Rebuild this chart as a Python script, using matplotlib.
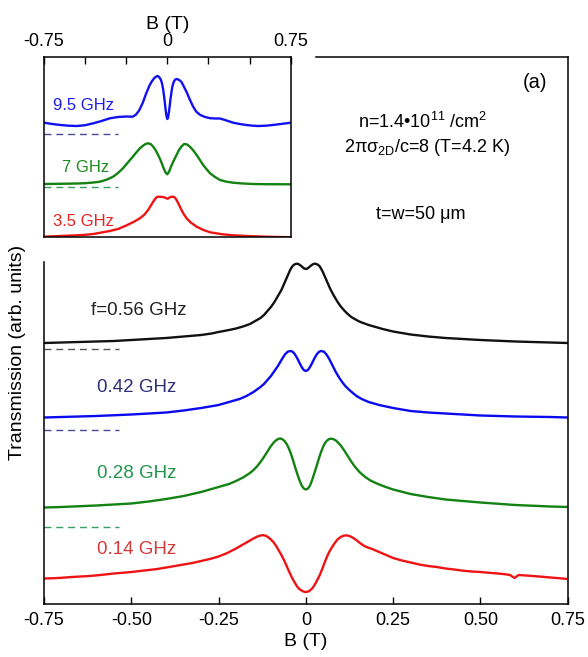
import matplotlib
matplotlib.use("Agg")
import matplotlib.pyplot as plt

plt.rcParams['font.family'] = ['Liberation Sans', 'DejaVu Sans']
plt.rcParams['mathtext.fontset'] = 'custom'
plt.rcParams['mathtext.rm'] = 'Liberation Sans'
plt.rcParams['mathtext.it'] = 'Liberation Sans:italic'

# ---------------- main panel data (arb. units) ----------------
B_056 = [-0.75, -0.7, -0.65, -0.6, -0.55, -0.5, -0.45, -0.4, -0.35, -0.3, -0.27, -0.25, -0.22,
         -0.2, -0.18, -0.16, -0.15, -0.14, -0.13, -0.12, -0.11, -0.1, -0.09, -0.08, -0.07,
         -0.06, -0.05, -0.045, -0.04, -0.035, -0.03, -0.025, -0.02, -0.015, -0.01, -0.005, 0.0,
         0.005, 0.01, 0.015, 0.02, 0.025, 0.03, 0.035, 0.04, 0.045, 0.05, 0.06, 0.07, 0.08,
         0.09, 0.1, 0.11, 0.12, 0.13, 0.14, 0.15, 0.16, 0.18, 0.2, 0.22, 0.25, 0.3, 0.35,
         0.4, 0.45, 0.5, 0.6, 0.7, 0.75]
T_056 = [261, 261.5, 262, 262.5, 263, 264, 265, 266, 267.5, 269, 270.5, 272, 274,
         275.5, 277.5, 280, 282, 284, 286, 289, 293, 297, 302, 308, 314,
         322, 330, 334, 337, 339, 340, 340.3, 339.7, 338.5, 337, 335.6, 335,
         335.6, 337, 338.5, 339.7, 340.3, 340, 339.2, 337.5, 334.5, 331, 323, 315, 308.5,
         302.5, 297.5, 293.5, 290, 287, 285, 283, 281.5, 279, 277, 275, 272.5, 269.5, 267.5,
         266, 265, 264, 262.5, 261.5, 261]

B_042 = [-0.75, -0.7, -0.6, -0.5, -0.45, -0.4, -0.35, -0.3, -0.25, -0.22, -0.19, -0.17, -0.15,
         -0.13, -0.12, -0.11, -0.1, -0.09, -0.08, -0.07, -0.06, -0.052, -0.044, -0.038, -0.032,
         -0.025, -0.018, -0.012, -0.006, 0.0, 0.006, 0.012, 0.018, 0.025, 0.032, 0.038, 0.044,
         0.052, 0.06, 0.067, 0.075, 0.085, 0.096, 0.105, 0.113, 0.123, 0.133, 0.145, 0.16,
         0.18, 0.21, 0.25, 0.3, 0.35, 0.4, 0.5, 0.6, 0.7, 0.75]
T_042 = [186.5, 187, 188, 189.5, 190.5, 191.5, 193.5, 196, 199, 202, 205, 208, 212,
         217, 220, 224, 228, 233, 238, 244, 249.5, 252.3, 253, 252.3, 250,
         246, 241, 237, 234, 233, 234, 237, 241, 246, 250, 252.3, 253,
         252.3, 249, 245, 239.5, 232.5, 226, 221.5, 218, 214.5, 211.5, 208, 205,
         202, 199, 196, 193, 191.5, 190.5, 188.5, 187.5, 187, 186.5]

B_028 = [-0.75, -0.7, -0.6, -0.5, -0.45, -0.4, -0.35, -0.3, -0.25, -0.22, -0.2, -0.18, -0.16,
         -0.15, -0.14, -0.13, -0.12, -0.11, -0.1, -0.092, -0.085, -0.078, -0.072, -0.066, -0.06,
         -0.054, -0.048, -0.042, -0.036, -0.03, -0.024, -0.018, -0.012, -0.006, 0.0, 0.006,
         0.012, 0.018, 0.024, 0.03, 0.036, 0.042, 0.048, 0.054, 0.06, 0.066, 0.072, 0.078,
         0.085, 0.092, 0.1, 0.11, 0.12, 0.13, 0.14, 0.155, 0.17, 0.185, 0.2, 0.225, 0.25,
         0.3, 0.35, 0.4, 0.45, 0.5, 0.6, 0.7, 0.75]
T_028 = [96.5, 97, 98.5, 100.5, 102.5, 105, 108, 112, 117, 120, 123, 126.5, 131,
         134, 137.5, 142, 147, 152.5, 158, 161.5, 163.8, 165.2, 165.5, 164.5, 162.5,
         159.5, 155, 149.5, 143, 136, 129.5, 123.5, 118.5, 115.5, 114.5, 115.5,
         118.5, 124, 130.5, 137, 144, 150.5, 156, 160.5, 163.2, 164.8, 165.3, 165,
         163.8, 161.5, 158.5, 153.5, 148, 142.5, 137.5, 131.5, 127, 123.5, 121, 117.5, 114.5,
         110, 107, 104.5, 103, 101.5, 99, 97.5, 97]

B_014 = [-0.75, -0.72, -0.7, -0.67, -0.65, -0.62, -0.6, -0.575, -0.55, -0.525, -0.5, -0.475,
         -0.45, -0.425, -0.4, -0.375, -0.35, -0.325, -0.3, -0.275, -0.25, -0.225, -0.2, -0.185,
         -0.17, -0.16, -0.15, -0.14, -0.13, -0.122, -0.115, -0.108, -0.1, -0.092, -0.085,
         -0.078, -0.07, -0.062, -0.055, -0.048, -0.04, -0.032, -0.025, -0.018, -0.01, -0.005,
         0.0, 0.005, 0.01, 0.018, 0.025, 0.032, 0.04, 0.048, 0.055, 0.062, 0.07, 0.078, 0.085,
         0.092, 0.1, 0.108, 0.115, 0.122, 0.13, 0.138, 0.145, 0.155, 0.165, 0.175, 0.19, 0.2,
         0.21, 0.23, 0.25, 0.275, 0.3, 0.325, 0.35, 0.375, 0.4, 0.425, 0.45, 0.475, 0.5, 0.525,
         0.55, 0.57, 0.585, 0.593, 0.598, 0.603, 0.61, 0.63, 0.65, 0.675, 0.7, 0.725, 0.75]
T_014 = [25.5, 25.8, 26.2, 27, 27.4, 28, 28.6, 29.5, 30.5, 31.2, 32, 33,
         34, 35, 36.5, 38, 39.5, 41, 43, 45, 47.5, 51, 55.5, 58.5,
         61.5, 63.5, 65.5, 67.3, 68.5, 68.8, 68.3, 66.8, 64.5, 61.5, 58,
         53.8, 49, 43.5, 38, 32.5, 26.5, 21.5, 17.5, 14.8, 13, 12.3,
         12, 12.3, 13, 15.5, 19, 23.5, 29, 36, 42.5, 48.5, 54, 58.5, 62,
         65, 67, 68.3, 68.6, 68.3, 67.2, 65.5, 63.8, 61, 58.5, 56.8, 55, 53.5,
         52, 49, 46, 43.5, 41.5, 39.5, 38, 37, 35.5, 34.5, 33.3, 32.5, 32, 31.2,
         30.5, 29.8, 29, 27, 26, 27.5, 29, 28.5, 28, 27.3, 26.5, 25.8, 25]

main_labels = ["f=0.56 GHz", "0.42 GHz", "0.28 GHz", "0.14 GHz"]
main_label_y = [293, 216, 131, 54]
main_zero_levels = [255, 174, 77.3]

# ---------------- inset data (arb. units) ----------------
B_95 = [-0.75, -0.7, -0.65, -0.6, -0.55, -0.5, -0.45, -0.4, -0.35, -0.3, -0.25, -0.21, -0.19,
        -0.17, -0.15, -0.13, -0.11, -0.095, -0.08, -0.068, -0.058, -0.048, -0.04, -0.033,
        -0.026, -0.02, -0.015, -0.01, -0.005, 0.0, 0.005, 0.01, 0.015, 0.02, 0.026, 0.032,
        0.04, 0.048, 0.056, 0.066, 0.076, 0.086, 0.1, 0.117, 0.135, 0.157, 0.175, 0.2, 0.23,
        0.26, 0.29, 0.32, 0.36, 0.4, 0.44, 0.48, 0.52, 0.55, 0.6, 0.64, 0.7, 0.75]
T_95 = [114.3, 113, 112, 111.3, 111, 111.8, 113.7, 116, 118.7, 120, 120.5, 120.3, 122.5,
        127, 134, 143, 151, 155.5, 158.8, 160.5, 161, 159.5, 157.5, 154,
        148, 141, 134, 126.5, 120.5, 118, 120, 125.5, 132, 139, 146, 151.5,
        155.5, 157.5, 158, 157.5, 156.5, 155, 150.5, 145, 138, 130.3, 125.5, 122, 120,
        118.8, 118.5, 118.5, 116.5, 114.3, 113, 112, 111.3, 111, 111.3, 112, 113.2, 114.3]

B_7 = [-0.75, -0.65, -0.55, -0.5, -0.45, -0.41, -0.37, -0.33, -0.3, -0.27, -0.24, -0.21,
       -0.19, -0.167, -0.145, -0.13, -0.117, -0.1, -0.086, -0.07, -0.056, -0.04, -0.026,
       -0.013, 0.0, 0.011, 0.022, 0.04, 0.056, 0.07, 0.086, 0.102, 0.12, 0.137, 0.158, 0.178,
       0.198, 0.218, 0.24, 0.26, 0.29, 0.32, 0.36, 0.4, 0.46, 0.52, 0.6, 0.75]
T_7 = [53, 53.2, 53.5, 53.8, 54.5, 55.3, 57.3, 60.3, 64, 68.7, 74.5, 80.3,
       84.3, 88.7, 91.7, 93.2, 93.7, 92.8, 90.3, 86.5, 82, 76.3, 70.3,
       65, 62.7, 65.5, 70.3, 76.8, 82, 86.8, 90.5, 93, 92.5, 90.3, 86.5, 82,
       77, 72, 67.5, 63.7, 60, 57, 55.3, 54.3, 53.5, 53, 52.8, 52.7]

B_35 = [-0.75, -0.65, -0.55, -0.5, -0.45, -0.4, -0.35, -0.3, -0.25, -0.2, -0.167, -0.14,
        -0.117, -0.1, -0.086, -0.075, -0.066, -0.056, -0.046, -0.03, -0.015, -0.007, 0.0,
        0.007, 0.015, 0.025, 0.035, 0.046, 0.056, 0.07, 0.086, 0.1, 0.117, 0.14, 0.178, 0.22,
        0.26, 0.33, 0.4, 0.5, 0.6, 0.75]
T_35 = [0.3, 1, 1.7, 2.2, 3, 4.5, 6, 8, 11.5, 15.5, 18.7, 22.3,
        27, 31.5, 35.3, 38, 39.7, 40.2, 40.3, 40, 39.5, 38.7, 38.3,
        38.7, 39.7, 40.2, 40.3, 39.5, 37, 32.5, 27, 22.8, 18.7, 14.8, 10.3, 7,
        4.7, 2.8, 1.7, 0.9, 0.3, -0.3]

inset_labels = ["9.5 GHz", "7 GHz", "3.5 GHz"]
inset_label_y = [132, 69, 15]
inset_zero_levels = [102.7, 50.3]

xticks = [-0.75, -0.5, -0.25, 0, 0.25, 0.5, 0.75]
xtick_labels = ["-0.75", "-0.50", "-0.25", "0", "0.25", "0.50", "0.75"]
inset_xtick_labels = ["-0.75", "", "", "0", "", "", "0.75"]

fig = plt.figure(figsize=(5.88, 6.57), dpi=100)

# ---------------- main axes ----------------
ax = fig.add_axes([44/588, 1-604/657, (567.7-44)/588, (604-57)/657])
c_black, c_blue, c_green, c_red = '#111111', '#0a0af0', '#128212', '#ee1414'
lw = 1.7
kw = dict(lw=lw, solid_joinstyle='round', solid_capstyle='round')
ax.plot(B_056, T_056, color=c_black, **kw)
ax.plot(B_042, T_042, color=c_blue, **kw)
ax.plot(B_028, T_028, color=c_green, **kw)
ax.plot(B_014, T_014, color=c_red, **kw)

dash_cols = ['#555555', '#4a4a90', '#3a9e62']
for lvl, dc in zip(main_zero_levels, dash_cols):
    ax.plot([-0.75, -0.535], [lvl, lvl], color=dc, lw=1.0, dashes=(5, 3.5))

lab_cols = ['#222222', '#2e2e78', '#20964a', '#d43a3a']
lab_x = [-0.616, -0.599, -0.597, -0.597]
for t, yv, c, xv in zip(main_labels, main_label_y, lab_cols, lab_x):
    ax.text(xv, yv, t, color=c, fontsize=13.5, ha='left', va='center')

ax.set_xlim(-0.75, 0.75)
ax.set_ylim(0, 547)
ax.set_xticks(xticks)
ax.set_xticklabels(xtick_labels)
ax.set_yticks([])
ax.tick_params(axis='x', direction='in', length=5, width=1.0, labelsize=13, pad=6,
               top=False)
for s in ax.spines.values():
    s.set_linewidth(1.1)
ax.spines['top'].set_bounds(0.03, 0.75)
ax.spines['left'].set_bounds(0, 342)
ax.set_xlabel("B (T)", fontsize=14, labelpad=3)

ax.text(0.69, 522, "(a)", fontsize=14.5, ha='right', va='center')
ax.text(0.333, 482, "n=1.4\u202210$^{11}$ /cm$^{2}$", fontsize=13, ha='center', va='center')
ax.text(0.347, 456, "2\u03c0\u03c3$_{\\mathrm{2D}}$/c=8 (T=4.2 K)", fontsize=13,
        ha='center', va='center')
ax.text(0.329, 389, "t=w=50 \u03bcm", fontsize=13, ha='center', va='center')

fig.text(18/588, 1-352/657, "Transmission (arb. units)", rotation=90, fontsize=14,
         ha='center', va='center')

# ---------------- inset ----------------
ins = fig.add_axes([44/588, 1-237.3/657, (290.7-44)/588, (237.3-56.7)/657])
ins.plot(B_95, T_95, color='#1212f0', **kw)
ins.plot(B_7, T_7, color=c_green, **kw)
ins.plot(B_35, T_35, color=c_red, **kw)
for lvl, dc in zip(inset_zero_levels, ['#4a4a90', '#3a9e62']):
    ins.plot([-0.75, -0.30], [lvl, lvl], color=dc, lw=1.0, dashes=(5, 3.5))
ins_cols = ['#1a1aee', '#1f8a1f', '#ee2020']
ins_x = [-0.697, -0.642, -0.697]
for t, yv, c, xv in zip(inset_labels, inset_label_y, ins_cols, ins_x):
    ins.text(xv, yv, t, color=c, fontsize=12, ha='left', va='center')
ins.set_xlim(-0.75, 0.75)
ins.set_ylim(-0.3, 180.3)
ins.set_xticks(xticks)
ins.set_xticklabels(inset_xtick_labels)
ins.set_yticks([])
ins.xaxis.set_ticks_position('top')
ins.xaxis.set_label_position('top')
ins.tick_params(axis='x', direction='in', length=5, width=1.0, labelsize=13, pad=5)
ins.set_xlabel("B (T)", fontsize=14, labelpad=3)
for s in ins.spines.values():
    s.set_linewidth(1.1)

fig.savefig("out.png", dpi=100)
